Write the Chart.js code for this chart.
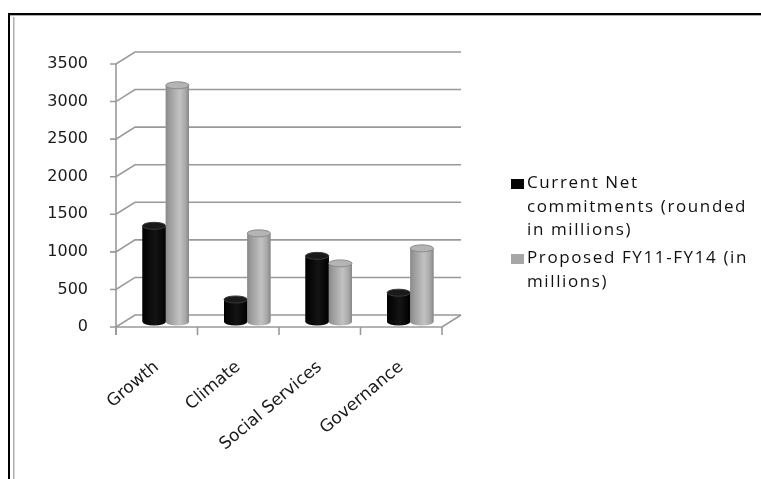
<!DOCTYPE html>
<html><head><meta charset="utf-8">
<script src="https://cdn.jsdelivr.net/npm/chart.js@4/dist/chart.umd.min.js"></script>
<style>html,body{margin:0;padding:0;background:#fff;overflow:hidden}#wrap{position:absolute;left:0;top:0;width:761px;height:479px}</style>
</head><body><div id="wrap"><canvas id="c" width="761" height="479"></canvas></div>
<script>
const categories = ['Growth', 'Climate', 'Social Services', 'Governance'];
const currentNet = [1280, 300, 880, 390];
const proposed = [3150, 1180, 780, 980];
const seriesNames = ['Current Net commitments (rounded in millions)', 'Proposed FY11-FY14 (in millions)'];
const legendLines = [['Current Net', 'commitments (rounded', 'in millions)'], ['Proposed FY11-FY14 (in', 'millions)']];
const seriesColors = ['#050505', '#a6a6a6'];
const yMin = 0, yMax = 3500, yStep = 500;

const DX = 19, DY = -12;      // back wall depth offset
const BX = 9, BY = -5;        // bar depth offset

const frame3d = {
  id: 'frame3d',
  beforeDraw(chart) {
    const ctx = chart.ctx;
    ctx.save();
    ctx.fillStyle = '#000';
    ctx.fillRect(8, 13, 761 - 8, 2);
    ctx.fillRect(8, 13, 2, 479 - 13);
    ctx.fillStyle = '#b0b0b0';
    ctx.fillRect(10, 15, 761 - 10, 1);
    ctx.fillRect(13, 17, 1.5, 479 - 17);
    ctx.restore();
  },
  beforeDatasetsDraw(chart) {
    const ctx = chart.ctx, a = chart.chartArea, ys = chart.scales.y;
    ctx.save();
    ctx.strokeStyle = '#999';
    ctx.lineWidth = 1.6;
    ys.ticks.forEach(t => {
      const y = ys.getPixelForValue(t.value);
      ctx.beginPath();
      ctx.moveTo(a.left - 6, y);
      ctx.lineTo(a.left, y);
      ctx.lineTo(a.left + DX, y + DY);
      ctx.lineTo(a.right + DX, y + DY);
      ctx.stroke();
    });
    ctx.beginPath();
    ctx.moveTo(a.left, a.top);
    ctx.lineTo(a.left, a.bottom + 8);
    ctx.stroke();
    ctx.beginPath();
    ctx.moveTo(a.left, a.bottom);
    ctx.lineTo(a.right, a.bottom);
    ctx.lineTo(a.right + DX, a.bottom + DY);
    ctx.stroke();
    const n = categories.length;
    for (let i = 0; i <= n; i++) {
      const x = a.left + (a.right - a.left) * i / n;
      ctx.beginPath();
      ctx.moveTo(x, a.bottom);
      ctx.lineTo(x, a.bottom + 8);
      ctx.stroke();
    }
    ctx.restore();
    ctx.save();
    ctx.translate(BX, BY);
  },
  afterDatasetsDraw(chart) {
    const ctx = chart.ctx;
    chart.data.datasets.forEach((ds, di) => {
      const meta = chart.getDatasetMeta(di);
      meta.data.forEach(el => {
        const p = el.getProps(['x', 'y', 'base', 'width'], true);
        const w = p.width, l = p.x - w / 2, r = p.x + w / 2, ry = 3.5;
        const top = p.y, bot = p.base;
        const g = ctx.createLinearGradient(l, 0, r, 0);
        if (di === 0) {
          g.addColorStop(0, '#000'); g.addColorStop(0.55, '#141414'); g.addColorStop(1, '#000');
        } else {
          g.addColorStop(0, '#8a8a8a'); g.addColorStop(0.2, '#9f9f9f'); g.addColorStop(0.6, '#c2c2c2');
          g.addColorStop(0.85, '#a8a8a8'); g.addColorStop(1, '#868686');
        }
        ctx.beginPath();
        ctx.moveTo(l, top);
        ctx.lineTo(l, bot);
        ctx.ellipse(p.x, bot, w / 2, ry, 0, Math.PI, 0, true);
        ctx.lineTo(r, top);
        ctx.closePath();
        ctx.fillStyle = g;
        ctx.fill();
        ctx.beginPath();
        ctx.ellipse(p.x, top, w / 2, ry, 0, 0, Math.PI * 2);
        ctx.fillStyle = di === 0 ? '#1a1a1a' : '#b4b4b4';
        ctx.fill();
        ctx.lineWidth = 1;
        ctx.strokeStyle = di === 0 ? '#3a3a3a' : '#8c8c8c';
        ctx.stroke();
      });
    });
    ctx.restore();
  },
  afterDraw(chart) {
    const ctx = chart.ctx;
    ctx.save();
    ctx.font = '17px "Open Sans"';
    const base = ctx.measureText('commitments (rounded').width;
    const sp = Math.max(0, Math.min(2, (220 - base) / 20));
    try { ctx.letterSpacing = sp.toFixed(2) + 'px'; } catch (e) {}
    ctx.textBaseline = 'middle';
    const starts = [183, 258];
    legendLines.forEach((lines, i) => {
      ctx.fillStyle = seriesColors[i];
      ctx.fillRect(511, starts[i] - 4, 13, 10);
      ctx.fillStyle = '#111';
      lines.forEach((t, k) => ctx.fillText(t, 527, starts[i] + k * 23.8));
    });
    ctx.restore();
  }
};

new Chart(document.getElementById('c'), {
  type: 'bar',
  data: {
    labels: categories,
    datasets: [
      { label: seriesNames[0], data: currentNet, backgroundColor: seriesColors[0], borderWidth: 0 },
      { label: seriesNames[1], data: proposed, backgroundColor: seriesColors[1], borderWidth: 0 }
    ]
  },
  options: {
    responsive: false,
    devicePixelRatio: 1,
    animation: false,
    events: [],
    clip: false,
    layout: { padding: { left: 0, right: 319, top: 64, bottom: 0 } },
    datasets: { bar: { barPercentage: 1, categoryPercentage: 0.57 } },
    plugins: { legend: { display: false }, tooltip: { enabled: false } },
    scales: {
      x: {
        grid: { display: false, drawTicks: false },
        border: { display: false },
        ticks: { autoSkip: false, minRotation: 40, maxRotation: 40, padding: 30, color: '#1a1a1a',
                 font: { family: 'DejaVu Sans', size: 17 } },
        afterFit(s) { s.height = 152; }
      },
      y: {
        min: yMin, max: yMax,
        grid: { display: false, drawTicks: false },
        border: { display: false },
        ticks: { stepSize: yStep, padding: 28, color: '#1a1a1a', font: { family: 'DejaVu Sans', size: 16 },
                 callback: v => String(v) },
        afterFit(s) { s.width = 116; }
      }
    }
  },
  plugins: [frame3d]
});
</script>
</body></html>
